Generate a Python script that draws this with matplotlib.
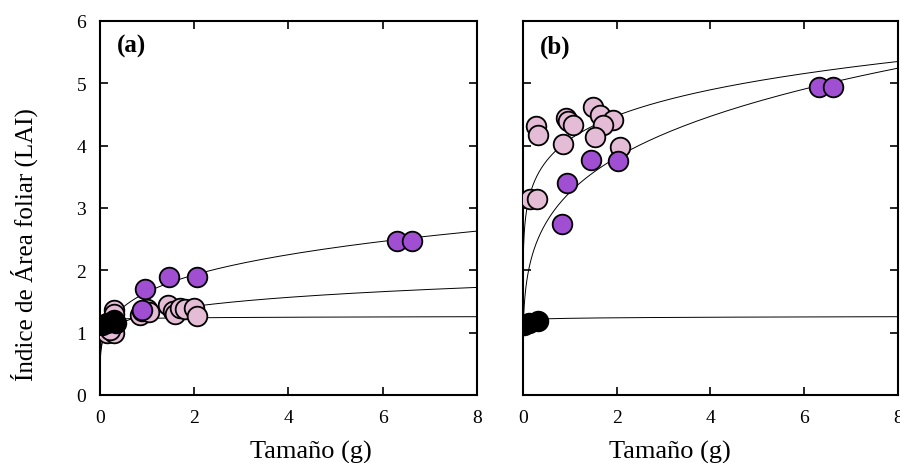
import numpy as np
import matplotlib
matplotlib.use("Agg")
import matplotlib.pyplot as plt

plt.rcParams['font.family'] = ['Liberation Serif', 'DejaVu Serif']
plt.rcParams['mathtext.fontset'] = 'stix'

# ---- Panel (a) data ----
a_pink_x = [0.30, 0.30, 0.15, 0.30, 0.22, 0.85, 0.90, 1.00, 1.05, 1.45, 1.55, 1.60, 1.70, 1.80, 2.00, 2.05]
a_pink_y = [1.37, 1.30, 1.00, 1.00, 1.05, 1.28, 1.35, 1.38, 1.33, 1.45, 1.35, 1.30, 1.40, 1.38, 1.40, 1.27]
a_purple_x = [0.95, 0.90, 1.46, 2.06, 6.30, 6.62]
a_purple_y = [1.70, 1.36, 1.89, 1.89, 2.47, 2.47]
a_black_x = [0.05, 0.15, 0.30, 0.35]
a_black_y = [1.12, 1.15, 1.20, 1.15]
# fitted curves y = c * x**p  (coefficient, exponent)
a_fit_c = [1.65, 1.29, 1.23]
a_fit_p = [0.224, 0.14, 0.01]

# ---- Panel (b) data ----
b_pink_x = [0.29, 0.33, 0.93, 0.96, 1.07, 0.85, 1.49, 1.64, 1.92, 1.71, 1.54, 2.07, 0.15, 0.30]
b_pink_y = [4.32, 4.17, 4.44, 4.40, 4.33, 4.03, 4.62, 4.49, 4.41, 4.33, 4.14, 3.98, 3.14, 3.14]
b_purple_x = [0.94, 1.45, 2.03, 0.83, 6.31, 6.61]
b_purple_y = [3.40, 3.77, 3.75, 2.74, 4.94, 4.94]
b_black_x = [0.03, 0.12, 0.32]
b_black_y = [1.12, 1.15, 1.19]
b_fit_c = [4.10, 3.25, 1.23]
b_fit_p = [0.128, 0.23, 0.01]

xticks = [0, 2, 4, 6, 8]
yticks = [0, 1, 2, 3, 4, 5, 6]

PURPLE = '#A04FD2'
PINK = '#E4BCD6'
BLACK = '#000000'

fig = plt.figure(figsize=(9, 4.64), dpi=100)
ax_a = fig.add_axes([0.111, 0.1466, 0.4189, 0.806])
ax_b = fig.add_axes([0.581, 0.1466, 0.4167, 0.806])

xs = np.concatenate([[0.0], np.logspace(-6, np.log10(8), 600)])

def draw(ax, pink, purple, black, fc, fp, label, show_ylabels, xlab_pos):
    for c, p in zip(fc, fp):
        ys = c * np.where(xs > 0, xs, 1) ** p
        ys = np.where(xs > 0, ys, 0.0)
        ax.plot(xs, ys, color='black', lw=0.7, zorder=1)
    kw = dict(s=200, edgecolors='black', linewidths=1.3, zorder=3)
    ax.scatter(pink[0], pink[1], c=PINK, **kw)
    ax.scatter(purple[0], purple[1], c=PURPLE, **kw)
    ax.scatter(black[0], black[1], c=BLACK, **kw)
    ax.set_xlim(0, 8)
    ax.set_ylim(0, 6)
    ax.set_xticks(xticks)
    ax.set_yticks(yticks)
    ax.tick_params(direction='in', top=True, right=True, length=6, width=1.2,
                   labelsize=14, pad=10)
    if not show_ylabels:
        ax.set_yticklabels([])
    for s in ax.spines.values():
        s.set_linewidth(1.5)
    ax.set_xlabel('Tamaño (g)', fontsize=19)
    ax.xaxis.set_label_coords(xlab_pos, -0.15)
    ax.xaxis.label.set_va('center')
    ax.text(0.045, 0.965, label, transform=ax.transAxes, fontsize=18,
            fontweight='bold', va='top', ha='left')

draw(ax_a, (a_pink_x, a_pink_y), (a_purple_x, a_purple_y), (a_black_x, a_black_y),
     a_fit_c, a_fit_p, '(a)', True, 0.56)
draw(ax_b, (b_pink_x, b_pink_y), (b_purple_x, b_purple_y), (b_black_x, b_black_y),
     b_fit_c, b_fit_p, '(b)', False, 0.392)

ax_a.set_ylabel('Índice de Área foliar (LAI)', fontsize=18)
ax_a.yaxis.set_label_coords(-0.2, 0.404)
ax_a.yaxis.label.set_va('center')

fig.savefig('out.png', dpi=100)
